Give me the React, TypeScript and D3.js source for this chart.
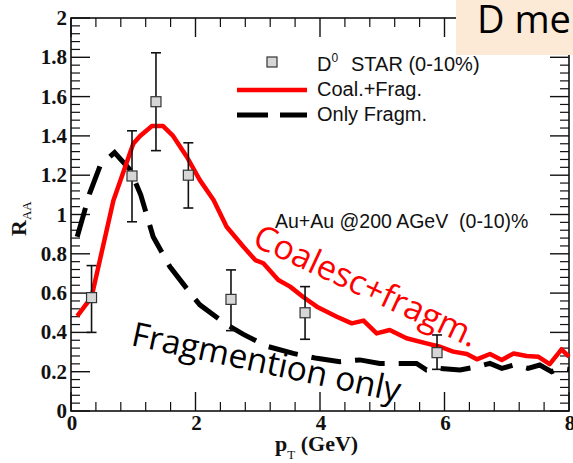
import React from "react";
import * as d3 from "d3";

// D0 STAR (0-10%) measurements
const dataPt = [0.33, 0.98, 1.365, 1.885, 2.57, 3.76, 5.88];
const dataRaa = [0.577, 1.196, 1.574, 1.2, 0.568, 0.5, 0.297];
const dataHi = [0.74, 1.426, 1.823, 1.365, 0.718, 0.633, 0.387];
const dataLo = [0.4, 0.963, 1.325, 1.033, 0.409, 0.365, 0.212];

// Coalescence + fragmentation model
const coalPt = [0.1, 0.33, 0.68, 1.0, 1.11, 1.3, 1.48, 1.64, 1.86, 2.07, 2.29, 2.5, 2.77, 2.96, 3.09, 3.33, 3.52, 3.73, 3.95, 4.27, 4.51, 4.7, 4.91, 5.12, 5.39, 5.71, 5.93, 6.14, 6.36, 6.52, 6.73, 6.92, 7.11, 7.32, 7.51, 7.69, 7.88, 8.0];
const coalRaa = [0.483, 0.58, 1.07, 1.36, 1.4, 1.45, 1.45, 1.4, 1.294, 1.175, 1.074, 0.938, 0.836, 0.768, 0.752, 0.667, 0.633, 0.58, 0.531, 0.48, 0.446, 0.46, 0.395, 0.412, 0.37, 0.344, 0.327, 0.302, 0.29, 0.263, 0.29, 0.26, 0.293, 0.28, 0.276, 0.239, 0.314, 0.276];

// Fragmentation only model
const fragPt = [0.1, 0.3, 0.47, 0.7, 0.95, 1.12, 1.32, 1.59, 1.96, 2.07, 2.5, 2.77, 3.14, 3.57, 3.95, 4.32, 4.64, 4.96, 5.29, 5.55, 5.71, 5.93, 6.25, 6.52, 6.73, 6.92, 7.11, 7.34, 7.53, 7.72, 7.86, 8.0];
const fragRaa = [0.887, 1.108, 1.25, 1.315, 1.227, 1.1, 0.887, 0.734, 0.582, 0.54, 0.44, 0.39, 0.33, 0.293, 0.268, 0.251, 0.26, 0.242, 0.242, 0.242, 0.209, 0.217, 0.209, 0.225, 0.242, 0.217, 0.234, 0.217, 0.234, 0.2, 0.217, 0.212];

const xMajor = [0, 2, 4, 6, 8];
const xMajorLabels = ["0", "2", "4", "6", "8"];
const yMajor = [0, 0.2, 0.4, 0.6, 0.8, 1, 1.2, 1.4, 1.6, 1.8, 2];
const yMajorLabels = ["0", "0.2", "0.4", "0.6", "0.8", "1", "1.2", "1.4", "1.6", "1.8", "2"];
const xMinorStep = 0.4;
const yMinorStep = 0.04;

const legendLabels = ["STAR (0-10%)", "Coal.+Frag.", "Only Fragm."];

const W = 573;
const H = 463;
const left = 71;
const right = 569;
const top = 18;
const bottom = 411;

export default function App() {
  const x = d3.scaleLinear().domain([0, 8]).range([left, right]);
  const y = d3.scaleLinear().domain([0, 2]).range([bottom, top]);

  const line = d3
    .line<[number, number]>()
    .x((d) => x(d[0]))
    .y((d) => y(d[1]))
    .curve(d3.curveLinear);

  const coalPath = line(coalPt.map((p, i) => [p, coalRaa[i]]) as [number, number][]) || "";
  const fragPath = line(fragPt.map((p, i) => [p, fragRaa[i]]) as [number, number][]) || "";

  const xMinor = d3.range(0, 8 + 1e-9, xMinorStep).filter((v) => !xMajor.some((m) => Math.abs(m - v) < 1e-6));
  const yMinor = d3.range(0, 2 + 1e-9, yMinorStep).filter((v) => !yMajor.some((m) => Math.abs(m - v) < 1e-6));

  const majorLen = 19;
  const minorLen = 9;
  const tickColor = "#111";
  const serif = "'Liberation Serif', 'Times New Roman', serif";
  const sans = "'Liberation Sans', Arial, sans-serif";
  const big = "'Open Sans', 'Noto Sans', sans-serif";

  return (
    <svg
      width={W}
      height={H}
      viewBox={`0 0 ${W} ${H}`}
      style={{ position: "absolute", left: 0, top: 0, background: "#fff" }}
    >
      <rect x={0} y={0} width={W} height={H} fill="#fff" />

      {/* frame */}
      <rect x={left} y={top} width={right - left} height={bottom - top} fill="none" stroke={tickColor} strokeWidth={1.6} />

      {/* x ticks, bottom and top */}
      {xMajor.map((v) => (
        <g key={`xM${v}`}>
          <line x1={x(v)} x2={x(v)} y1={bottom} y2={bottom - majorLen} stroke={tickColor} strokeWidth={1.4} />
          <line x1={x(v)} x2={x(v)} y1={top} y2={top + majorLen} stroke={tickColor} strokeWidth={1.4} />
        </g>
      ))}
      {xMinor.map((v) => (
        <g key={`xm${v.toFixed(2)}`}>
          <line x1={x(v)} x2={x(v)} y1={bottom} y2={bottom - minorLen} stroke={tickColor} strokeWidth={1.2} />
          <line x1={x(v)} x2={x(v)} y1={top} y2={top + minorLen} stroke={tickColor} strokeWidth={1.2} />
        </g>
      ))}
      {/* y ticks, left and right */}
      {yMajor.map((v) => (
        <g key={`yM${v}`}>
          <line x1={left} x2={left + majorLen} y1={y(v)} y2={y(v)} stroke={tickColor} strokeWidth={1.4} />
          <line x1={right} x2={right - majorLen} y1={y(v)} y2={y(v)} stroke={tickColor} strokeWidth={1.4} />
        </g>
      ))}
      {yMinor.map((v) => (
        <g key={`ym${v.toFixed(2)}`}>
          <line x1={left} x2={left + minorLen} y1={y(v)} y2={y(v)} stroke={tickColor} strokeWidth={1.2} />
          <line x1={right} x2={right - minorLen} y1={y(v)} y2={y(v)} stroke={tickColor} strokeWidth={1.2} />
        </g>
      ))}

      {/* tick labels */}
      {xMajor.map((v, i) => (
        <text key={`xl${v}`} x={x(v) + 1} y={430} textAnchor="middle" fontFamily={serif} fontWeight="bold" fontSize={21} fill="#111">
          {xMajorLabels[i]}
        </text>
      ))}
      {yMajor.map((v, i) => (
        <text key={`yl${v}`} x={67} y={y(v) + 7} textAnchor="end" fontFamily={serif} fontWeight="bold" fontSize={21} fill="#111">
          {yMajorLabels[i]}
        </text>
      ))}

      {/* axis titles */}
      <text x={275} y={451} fontFamily={serif} fontWeight="bold" fontSize={22} fill="#111">
        p
        <tspan fontSize={13} fontWeight="normal" dy={8}>T</tspan>
        <tspan dy={-8}> (GeV)</tspan>
      </text>
      <text transform="translate(26,236) rotate(-90)" fontFamily={serif} fontWeight="bold" fontSize={22} fill="#111">
        R
        <tspan fontSize={13} fontWeight="normal" dy={5}>AA</tspan>
      </text>

      {/* model curves */}
      <path d={fragPath} fill="none" stroke="#000" strokeWidth={5} strokeDasharray="30 14" />
      <path d={coalPath} fill="none" stroke="#ff0000" strokeWidth={4.5} strokeLinejoin="round" />

      {/* data with error bars */}
      {dataPt.map((p, i) => (
        <g key={`d${i}`}>
          <line x1={x(p)} x2={x(p)} y1={y(dataLo[i])} y2={y(dataHi[i])} stroke="#111" strokeWidth={1.6} />
          <line x1={x(p) - 5} x2={x(p) + 5} y1={y(dataLo[i])} y2={y(dataLo[i])} stroke="#111" strokeWidth={1.6} />
          <line x1={x(p) - 5} x2={x(p) + 5} y1={y(dataHi[i])} y2={y(dataHi[i])} stroke="#111" strokeWidth={1.6} />
          <rect x={x(p) - 5} y={y(dataRaa[i]) - 5} width={10} height={10} fill="#d6d6d6" stroke="#333" strokeWidth={1.2} />
        </g>
      ))}

      {/* legend */}
      <rect x={267} y={57} width={10} height={10} fill="#d6d6d6" stroke="#333" strokeWidth={1.2} />
      <text x={317} y={71} fontFamily={sans} fontSize={20} fill="#111">
        D
        <tspan fontSize={12} dy={-9}>0</tspan>
        <tspan dy={9} x={351}>{legendLabels[0]}</tspan>
      </text>
      <line x1={237} x2={307} y1={90} y2={90} stroke="#ff0000" strokeWidth={4.5} />
      <text x={317} y={96} fontFamily={sans} fontSize={20} fill="#111">{legendLabels[1]}</text>
      <line x1={237} x2={307} y1={115} y2={115} stroke="#000" strokeWidth={5} strokeDasharray="31 12" />
      <text x={317} y={121} fontFamily={sans} fontSize={20} fill="#111">{legendLabels[2]}</text>

      <text x={275} y={228} fontFamily={sans} fontSize={19.5} fill="#111" style={{ whiteSpace: "pre" }}>
        {"Au+Au @200 AGeV  (0-10)%"}
      </text>

      {/* annotations */}
      <text transform="translate(251,245) rotate(25)" fontFamily={big} fontSize={34} fill="#ff0000">
        Coalesc+fragm.
      </text>
      <text transform="translate(130,345) rotate(12)" fontFamily={big} fontSize={33.5} fill="#000">
        Fragmention only
      </text>

      {/* title box */}
      <rect x={456} y={0} width={W - 456} height={55} fill="#fdead6" />
      <text x={477} y={33} fontFamily={big} fontSize={38} fill="#000">D me</text>
    </svg>
  );
}
